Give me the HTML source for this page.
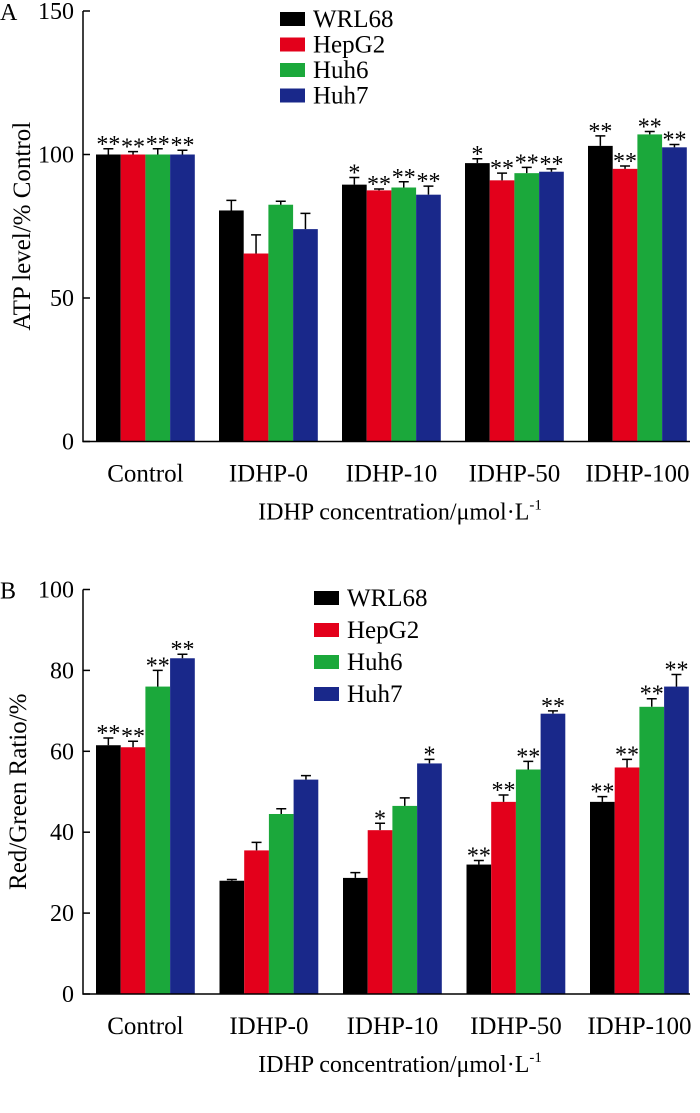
<!DOCTYPE html>
<html><head><meta charset="utf-8"><style>
body{margin:0;background:#fff;}
svg text{font-family:"Liberation Serif",serif;fill:#000;}
</style></head><body>
<svg id="chart" width="700" height="1108" xmlns="http://www.w3.org/2000/svg"></svg>
<script>
const categories=["Control","IDHP-0","IDHP-10","IDHP-50","IDHP-100"];
const seriesNames=["WRL68","HepG2","Huh6","Huh7"];
const colors=["#000000","#e3001b","#1ba83b","#19288a"];
const atpValues=[[100,80.5,89.5,97,103],[100,65.5,87.5,91,95],[100,82.5,88.5,93.5,107],[100,74,86,94,102.5]];
const atpErrors=[[2,3.5,2.5,1.5,3.5],[1,6.5,0.5,2.5,1],[2,1.2,2,2,1],[1.5,5.5,3,1,1]];
const atpStars=[["**","","*","*","**"],["**","","**","**","**"],["**","","**","**","**"],["**","","**","**","**"]];
const atpTicks=[0,50,100,150];
const rgValues=[[61.5,28,28.7,32,47.5],[61,35.5,40.5,47.5,56],[76,44.5,46.5,55.5,71],[83,53,57,69.3,76]];
const rgErrors=[[1.8,0.3,1.3,1,1.3],[1.5,2,1.7,1.7,2],[4,1.3,2,2,2],[1,1,1,0.7,3]];
const rgStars=[["**","","","**","**"],["**","","*","**","**"],["**","","","**","**"],["**","","*","**","**"]];
const rgTicks=[0,20,40,60,80,100];
const svg=document.getElementById('chart');
const NS="http://www.w3.org/2000/svg";
function mk(tag,attrs,parent){const e=document.createElementNS(NS,tag);for(const k in attrs)e.setAttribute(k,attrs[k]);(parent||svg).appendChild(e);return e;}
function panel(p){
  const g=mk('g',{});
  
  
  const y=v=>p.y0-(v-p.min)/(p.max-p.min)*(p.y0-p.yTop);
  const xb=(c,s)=>p.x0+c*p.gap+s*p.bw;
  for(let s=0;s<4;s++)for(let c=0;c<categories.length;c++){
    const v=p.vals[s][c],e=p.errs[s][c],x=xb(c,s),cx=x+p.bw/2;
    const r=mk('rect',{x:x,y:y(v),width:p.bw,height:p.y0-y(v),fill:colors[s]},g);
    
    
    const eb=mk('path',{d:`M${cx} ${y(v)}V${y(v+e)}M${cx-5} ${y(v+e)}H${cx+5}`,stroke:'#000','stroke-width':1.5,fill:'none'},g);
    
    
    if(p.stars[s][c]){const t=mk('text',{x:cx,y:y(v+e)+p.starOff,'text-anchor':'middle','font-size':24},g);t.textContent=p.stars[s][c];
      
      }
  }
  const ax=mk('path',{d:`M${p.ax} ${p.yTop}V${p.y0}H690`,stroke:'#000','stroke-width':1.5,fill:'none'},g);
  
  
  p.ticks.forEach(tv=>{
    mk('line',{x1:p.ax,x2:p.ax+7,y1:y(tv),y2:y(tv),stroke:'#000','stroke-width':1.5},g);
    const t=mk('text',{x:p.ax-9,y:y(tv)+8,'text-anchor':'end','font-size':24},g);t.textContent=tv;
    
    
  });
  categories.forEach((c,i)=>{const t=mk('text',{x:xb(i,2),y:p.y0+40,'text-anchor':'middle','font-size':25},g);t.textContent=c;
    
    });
  const xt=mk('text',{x:400,y:p.y0+78,'text-anchor':'middle','font-size':24},g);
  xt.innerHTML='IDHP concentration/μmol·L<tspan dy="-10" font-size="15">-1</tspan>';
  
  
  const yt=mk('text',{x:0,y:0,'text-anchor':'middle','font-size':25,transform:`translate(${p.ytx},${(p.yTop+p.y0)/2}) rotate(-90)`},g);
  yt.textContent=p.ytitle;
  
  
  const pl=mk('text',{x:0,y:p.yTop+9,'font-size':24},g);pl.textContent=p.label;
  
  
  seriesNames.forEach((n,i)=>{
    const ly=p.legY+i*p.legGap;
    const sw=mk('rect',{x:p.legX,y:ly-7,width:25,height:14,fill:colors[i]},g);
    
    
    const t=mk('text',{x:p.legX+33,y:ly+8,'font-size':25},g);t.textContent=n;
    
    
  });
}
panel({name:'chart-a-atp',vals:atpValues,errs:atpErrors,stars:atpStars,ticks:atpTicks,min:0,max:150,y0:441.5,yTop:11,x0:96,gap:123,bw:24.7,ax:83,ytitle:'ATP level/% Control',ytx:30,label:'A',legX:280,legY:19,legGap:25.5,starOff:3});
panel({name:'chart-b-ratio',vals:rgValues,errs:rgErrors,stars:rgStars,ticks:rgTicks,min:0,max:100,y0:994,yTop:589.5,x0:96,gap:123.5,bw:24.7,ax:83,ytitle:'Red/Green Ratio/%',ytx:26,label:'B',legX:314,legY:598,legGap:32,starOff:3});
</script>
</body></html>
